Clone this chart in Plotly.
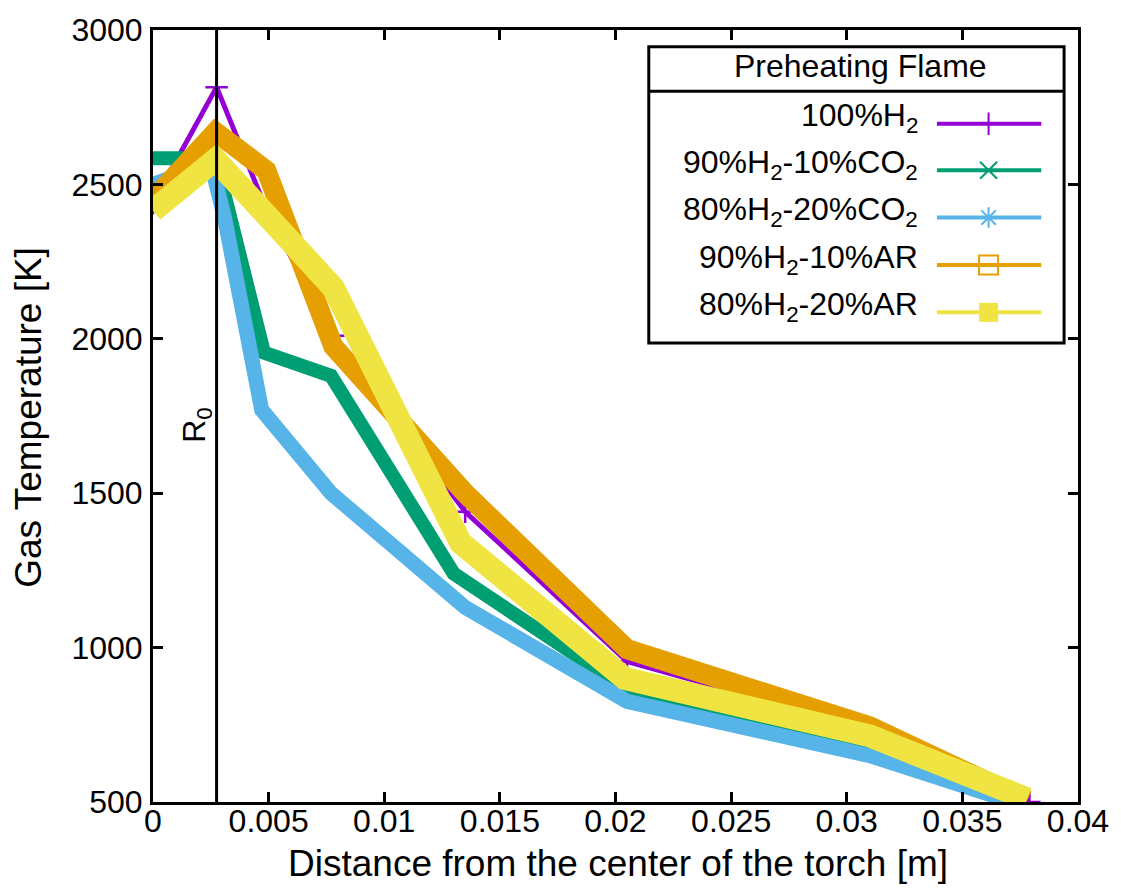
import plotly.graph_objects as go

# ---------------- data ----------------
x_h2 = [0.0, 0.00275, 0.0050, 0.0078, 0.0135, 0.0205, 0.031, 0.0379]
t_h2 = [2440, 2815, 2400, 2010, 1440, 955, 735, 500]

x_co2_10 = [0.0, 0.0027, 0.0048, 0.0077, 0.0130, 0.0205, 0.031, 0.0375]
t_co2_10 = [2585, 2585, 1955, 1880, 1240, 865, 690, 500]

x_co2_20 = [0.0, 0.0025, 0.0031, 0.0047, 0.0077, 0.0135, 0.0205, 0.031, 0.0372]
t_co2_20 = [2500, 2570, 2390, 1770, 1500, 1130, 826, 650, 500]

x_ar_10 = [0.0, 0.0027, 0.0049, 0.0078, 0.0135, 0.0205, 0.031, 0.0378]
t_ar_10 = [2450, 2670, 2545, 1975, 1500, 995, 745, 505]

x_ar_20 = [0.0, 0.0027, 0.0078, 0.0133, 0.0204, 0.031, 0.0378]
t_ar_20 = [2415, 2580, 2165, 1340, 900, 714, 510]

series_names = ["100%H<sub>2</sub>", "90%H<sub>2</sub>-10%CO<sub>2</sub>",
                "80%H<sub>2</sub>-20%CO<sub>2</sub>", "90%H<sub>2</sub>-10%AR",
                "80%H<sub>2</sub>-20%AR"]
legend_title = "Preheating Flame"
r0_position = 0.00275

x_tickvals = [0, 0.005, 0.01, 0.015, 0.02, 0.025, 0.03, 0.035, 0.04]
x_ticktext = ["0", "0.005", "0.01", "0.015", "0.02", "0.025", "0.03", "0.035", "0.04"]
y_tickvals = [500, 1000, 1500, 2000, 2500, 3000]
y_ticktext = ["500", "1000", "1500", "2000", "2500", "3000"]

x_title = "Distance from the center of the torch [m]"
y_title = "Gas Temperature [K]"

# ---------------- styles ----------------
colors = ["#9400D3", "#009E73", "#56B4E9", "#E69F00", "#F0E442"]
widths = [5, 14, 15, 20, 23]
symbols = ["cross-thin-open", "x-thin-open", "asterisk-open", "square-open", "square"]
FONT = "Liberation Sans, Arial, Helvetica, sans-serif"

xs = [x_h2, x_co2_10, x_co2_20, x_ar_10, x_ar_20]
ts = [t_h2, t_co2_10, t_co2_20, t_ar_10, t_ar_20]

fig = go.Figure()

for i in range(5):
    if i == 0:
        fig.add_trace(go.Scatter(
            x=xs[i], y=ts[i], mode="lines+markers",
            line=dict(color=colors[i], width=widths[i]),
            marker=dict(symbol="cross-thin-open", size=16, color=colors[i],
                        line=dict(color=colors[i], width=2.5)),
            showlegend=False, hoverinfo="skip"))
    else:
        fig.add_trace(go.Scatter(
            x=xs[i], y=ts[i], mode="lines",
            line=dict(color=colors[i], width=widths[i]),
            showlegend=False, hoverinfo="skip"))

# R0 vertical line
fig.add_shape(type="line", xref="x", yref="paper", x0=r0_position, x1=r0_position,
              y0=0, y1=1, line=dict(color="black", width=3), layer="above")
fig.add_annotation(x=r0_position, y=1720, xref="x", yref="y", text="R<sub>0</sub>",
                   textangle=-90, showarrow=False, xshift=-20,
                   font=dict(family=FONT, size=32, color="black"))

# ---------------- legend (drawn manually, gnuplot style) ----------------
def px_to_paper_x(px):
    return (px - 153) / 931.0

def px_to_paper_y(py):
    return (802 - py) / 782.0

bx0, bx1 = px_to_paper_x(652), px_to_paper_x(1070)
by0, by1 = px_to_paper_y(337), px_to_paper_y(37)
fig.add_shape(type="rect", xref="paper", yref="paper", x0=bx0, x1=bx1, y0=by0, y1=by1,
              line=dict(color="black", width=3), fillcolor="rgba(0,0,0,0)", layer="above")
fig.add_shape(type="line", xref="paper", yref="paper", x0=bx0, x1=bx1,
              y0=px_to_paper_y(82), y1=px_to_paper_y(82),
              line=dict(color="black", width=3), layer="above")
fig.add_annotation(x=px_to_paper_x(865), y=px_to_paper_y(56), xref="paper", yref="paper",
                   text=legend_title, showarrow=False, xanchor="center", yanchor="middle",
                   font=dict(family=FONT, size=32, color="black"))

row_y = [115, 162, 210, 258, 306]
lx0, lx1, lxm = px_to_paper_x(942), px_to_paper_x(1047), px_to_paper_x(994)
msizes = [16, 17, 17, 19, 19]
for i in range(5):
    yy = px_to_paper_y(row_y[i])
    fig.add_annotation(x=px_to_paper_x(925), y=px_to_paper_y(row_y[i] - 6),
                       xref="paper", yref="paper",
                       text=series_names[i], showarrow=False, xanchor="right",
                       yanchor="middle",
                       font=dict(family=FONT, size=32, color="black"))
    if symbols[i] == "square":
        mk = dict(symbol="square", size=msizes[i], color=colors[i])
    else:
        mk = dict(symbol=symbols[i], size=msizes[i], color=colors[i],
                  line=dict(color=colors[i], width=2))
    fig.add_trace(go.Scatter(
        x=[lx0, lxm, lx1], y=[yy, yy, yy], xaxis="x2", yaxis="y2",
        mode="lines", line=dict(color=colors[i], width=4),
        showlegend=False, hoverinfo="skip"))
    fig.add_trace(go.Scatter(
        x=[lxm], y=[yy], xaxis="x2", yaxis="y2", mode="markers",
        marker=mk, showlegend=False, hoverinfo="skip"))

# axis titles
fig.add_annotation(x=px_to_paper_x(621), y=px_to_paper_y(864), xref="paper", yref="paper",
                   text=x_title, showarrow=False, xanchor="center", yanchor="middle",
                   font=dict(family=FONT, size=37, color="black"))
fig.add_annotation(x=px_to_paper_x(28), y=px_to_paper_y(412), xref="paper", yref="paper",
                   text=y_title, showarrow=False, textangle=-90, xanchor="center",
                   yanchor="middle", font=dict(family=FONT, size=37, color="black"))

axis_common = dict(showline=True, linecolor="black", linewidth=3, mirror="ticks",
                   ticks="inside", ticklen=10, tickwidth=2.5, tickcolor="black",
                   showgrid=False, zeroline=False,
                   tickfont=dict(family=FONT, size=32, color="black"))

fig.update_layout(
    width=1121, height=888,
    margin=dict(l=153, r=37, t=20, b=86),
    paper_bgcolor="white", plot_bgcolor="white",
    showlegend=False,
    xaxis=dict(range=[0, 0.04], tickvals=x_tickvals, ticktext=x_ticktext,
               ticklabelstandoff=-11, **axis_common),
    yaxis=dict(range=[500, 3000], tickvals=y_tickvals, ticktext=y_ticktext,
               ticklabelstandoff=1, **axis_common),
    xaxis2=dict(overlaying="x", range=[0, 1], visible=False, anchor="y2",
                showticklabels=False),
    yaxis2=dict(overlaying="y", range=[0, 1], visible=False, anchor="x2",
                showticklabels=False),
)

fig.write_html("out.html")
